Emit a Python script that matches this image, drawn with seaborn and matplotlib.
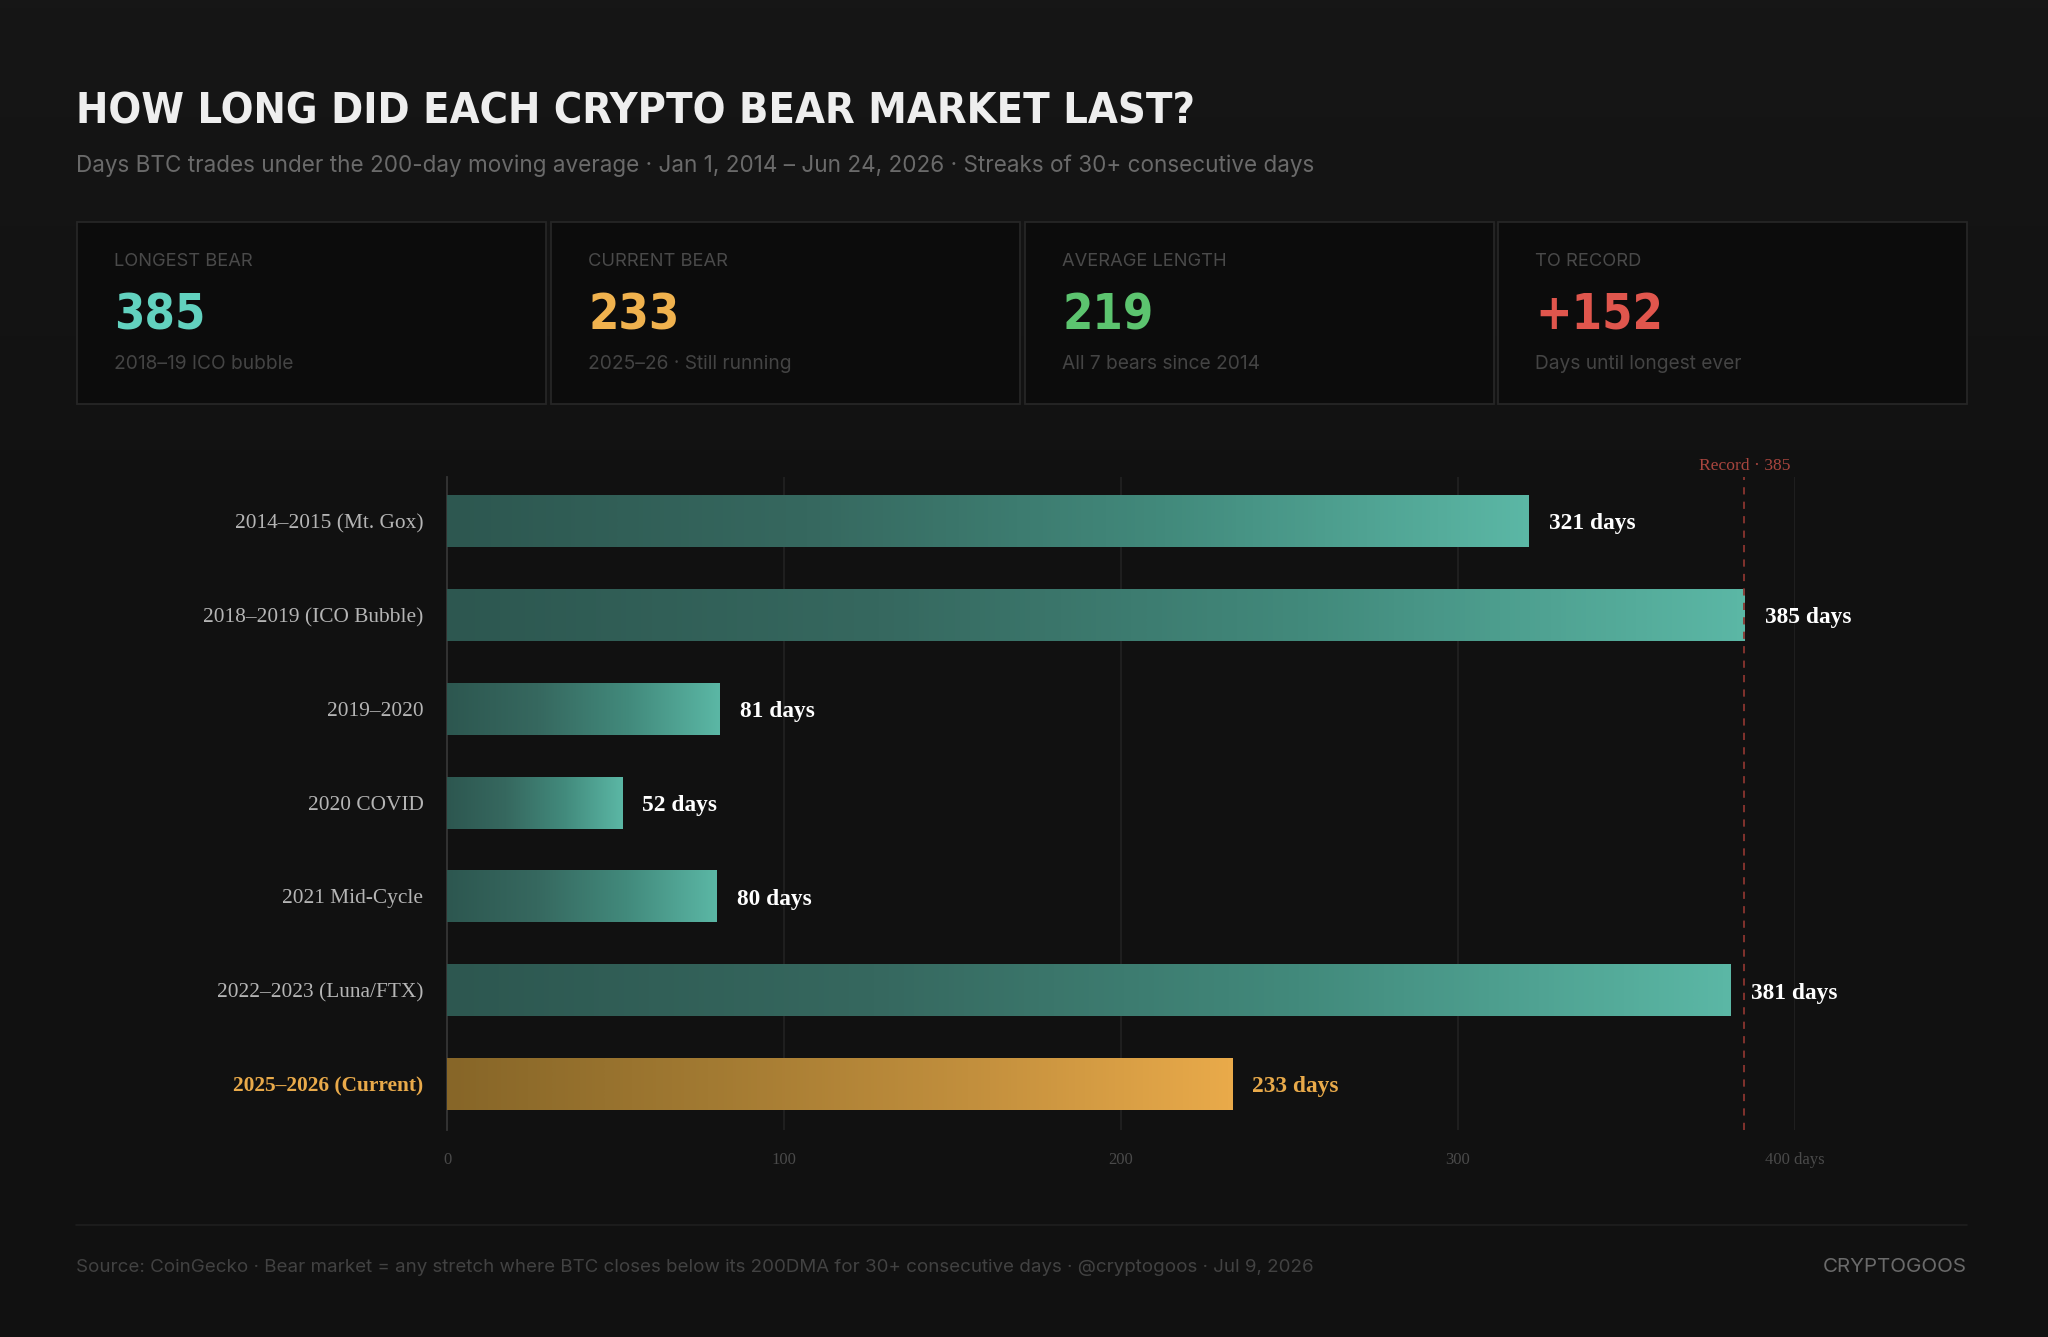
import numpy as np
import matplotlib
matplotlib.use("Agg")
import matplotlib.pyplot as plt
import seaborn as sns
import pandas as pd
from matplotlib.patches import Rectangle
from matplotlib.colors import LinearSegmentedColormap
from matplotlib import font_manager as fm

# ---------------- data ----------------
categories = ["2014–2015 (Mt. Gox)", "2018–2019 (ICO Bubble)", "2019–2020", "2020 COVID",
              "2021 Mid-Cycle", "2022–2023 (Luna/FTX)", "2025–2026 (Current)"]
days = [321, 385, 81, 52, 80, 381, 233]
is_current = [False, False, False, False, False, False, True]
x_ticks = [0, 100, 200, 300, 400]
x_tick_labels = ["0", "100", "200", "300", "400 days"]
record_days = 385

card_labels = ["LONGEST BEAR", "CURRENT BEAR", "AVERAGE LENGTH", "TO RECORD"]
card_values = ["385", "233", "219", "+152"]
card_subs = ["2018–19 ICO bubble", "2025–26 · Still running", "All 7 bears since 2014", "Days until longest ever"]
card_colors = ["#62d2bf", "#f0b24e", "#5cc46f", "#e0564d"]

title = "HOW LONG DID EACH CRYPTO BEAR MARKET LAST?"
subtitle = ("Days BTC trades under the 200-day moving average · Jan 1, 2014 – Jun 24, 2026 · "
            "Streaks of 30+ consecutive days")
footer = ("Source: CoinGecko · Bear market = any stretch where BTC closes below its 200DMA for 30+ "
          "consecutive days · @cryptogoos · Jul 9, 2026")
brand = "CRYPTOGOOS"

# ---------------- style ----------------
sns.set_theme(style="dark")
plt.rcParams['font.family'] = ['DejaVu Sans']
SANS = ['Inter', 'DejaVu Sans']
SERIF = ['Liberation Serif', 'DejaVu Serif']


def _wnum(w):
    if isinstance(w, (int, float)):
        return w
    return fm.weight_dict.get(str(w).lower(), 400)


def find_condensed_bold():
    best = None
    for f in fm.fontManager.ttflist:
        p = f.fname.lower()
        cond = ('condensed' in p or 'narrow' in p or
                f.stretch in ('condensed', 'semi-condensed', 'extra-condensed', 'ultra-condensed'))
        if not cond or 'mono' in p or 'italic' in p or 'oblique' in p or 'serif' in f.name.lower():
            continue
        score = -abs(_wnum(f.weight) - 700)
        if best is None or score > best[0]:
            best = (score, f.fname)
    return best[1] if best else None


cond_path = find_condensed_bold()
if cond_path:
    COND_FP = dict(fontproperties=fm.FontProperties(fname=cond_path))
else:
    COND_FP = dict(family=['Roboto', 'DejaVu Sans'], fontweight='bold')

W, H = 2048, 1337
fig = plt.figure(figsize=(W / 100, H / 100), dpi=100, facecolor="#111111")

bg = fig.add_axes([0, 0, 1, 1], zorder=0)
bgcmap = LinearSegmentedColormap.from_list('bg', ['#161616', '#121212', '#111111', '#111111'])
bg.imshow(np.linspace(0, 1, 256)[:, None], extent=[0, W, H, 0], cmap=bgcmap, aspect='auto',
          interpolation='bicubic', zorder=0)
bg.set_xlim(0, W)
bg.set_ylim(H, 0)
bg.axis('off')


def fit_width(txt, target_w, max_size):
    fig.canvas.draw()
    r = fig.canvas.get_renderer()
    w = txt.get_window_extent(r).width
    size = txt.get_fontsize() * target_w / w
    txt.set_fontsize(min(size, max_size))


# title + subtitle
t_title = bg.text(76, 124, title, fontsize=40, color='#eeeeee', va='baseline', ha='left', **COND_FP)
if cond_path:
    t_title.set_fontweight('bold')
fit_width(t_title, 1120, 54)
bg.text(76, 166, subtitle, fontsize=16.2, color='#6a6a6a', family=SANS, va='center', ha='left')

# cards
card_x = [77, 551, 1025, 1498]
card_w, card_y, card_h = 469, 222, 182
for cx, lab, val, sub, col in zip(card_x, card_labels, card_values, card_subs, card_colors):
    bg.add_patch(Rectangle((cx, card_y), card_w, card_h, facecolor='#0c0c0c',
                           edgecolor='#262626', lw=1.3, zorder=2))
    bg.text(cx + 37, 261, lab, fontsize=13.2, color='#4a4a4a', family=SANS, va='center', zorder=3)
    tv = bg.text(cx + 37, 330, val, fontsize=35 if cond_path else 32, color=col,
                 va='baseline', zorder=3, **COND_FP)
    if cond_path:
        tv.set_fontweight('bold')
    bg.text(cx + 37, 364, sub, fontsize=13.8, color='#444444', family=SANS, va='center', zorder=3)

# footer
bg.plot([76, 1967], [1225, 1225], color='#1f1f1f', lw=1.2)
bg.text(76, 1267, footer, fontsize=13.5, color='#424242', family=SANS, va='center', ha='left')
bg.text(1967, 1267, brand, fontsize=14.8, color='#6a6a6a', family=SANS, va='center', ha='right')

# ---------------- main bar chart ----------------
ax = fig.add_axes([447 / W, 1 - 1130 / H, (1795 - 447) / W, (1130 - 477) / H], zorder=2)
ax.patch.set_alpha(0)
df = pd.DataFrame({"period": categories, "days": days})
palette = ["#4a9a8a" if not c else "#c08a38" for c in is_current]
sns.barplot(data=df, x="days", y="period", hue="period", palette=palette, legend=False,
            width=0.555, orient='h', saturation=1, ax=ax, zorder=3)

teal = LinearSegmentedColormap.from_list('teal', ['#2d5750', '#36685f', '#428a7c', '#5bb7a5'])
gold = LinearSegmentedColormap.from_list('gold', ['#876628', '#a27a32', '#c28f3d', '#e9aa4a'])
for patch in list(ax.patches):
    x0, y0, w, h = patch.get_x(), patch.get_y(), patch.get_width(), patch.get_height()
    idx = int(round(y0 + h / 2))
    cmap = gold if is_current[idx] else teal
    patch.set_edgecolor('none')
    im = ax.imshow(np.linspace(0, 1, 256)[None, :], extent=[x0, x0 + w, y0 + h, y0], cmap=cmap,
                   aspect='auto', interpolation='bicubic', zorder=3.5)
    im.set_clip_path(patch)

for i, (v, cur) in enumerate(zip(days, is_current)):
    ax.text(v + 6, i + 0.03, f"{v} days", va='center', ha='left', fontsize=16.8, fontweight='bold',
            color='#e9aa4a' if cur else '#ffffff', family=SERIF, zorder=5)

ax.axvline(record_days, color='#8a3530', ls=(0, (4, 4)), lw=1.3, zorder=4)
ax.text(record_days, -0.5, f"Record · {record_days}", ha='center', va='bottom', fontsize=12.6,
        color='#a8453e', family=SERIF, clip_on=False)

ax.set_xlim(0, 400)
ax.set_ylim(6.49, -0.47)
ax.set_xticks(x_ticks)
ax.set_xticklabels(x_tick_labels, family=SERIF, fontsize=12, color='#4a4a4a')
ax.set_yticks(range(len(categories)))
ax.set_yticklabels(categories, family=SERIF, fontsize=15.4)
for lbl, cur in zip(ax.get_yticklabels(), is_current):
    lbl.set_color('#e9aa4a' if cur else '#b5b5b5')
    if cur:
        lbl.set_fontweight('bold')
ax.tick_params(axis='y', length=0, pad=17)
ax.tick_params(axis='x', length=0, pad=16)
ax.xaxis.grid(True, color='#232323', lw=1.2, zorder=0)
ax.yaxis.grid(False)
ax.set_axisbelow(True)
for s in ['top', 'right', 'bottom']:
    ax.spines[s].set_visible(False)
ax.spines['left'].set_color('#353535')
ax.spines['left'].set_linewidth(1.3)
ax.set_xlabel('')
ax.set_ylabel('')

fig.savefig("out.png", dpi=100, facecolor=fig.get_facecolor())
